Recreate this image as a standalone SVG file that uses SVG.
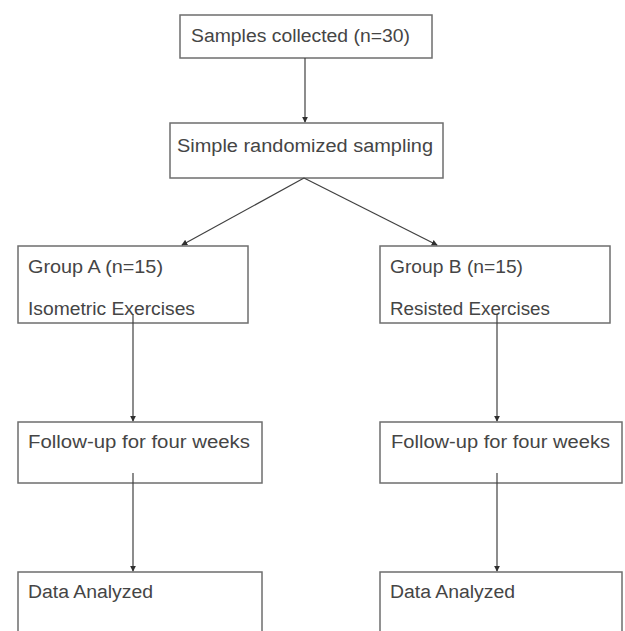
<svg xmlns="http://www.w3.org/2000/svg" width="625" height="631" viewBox="0 0 625 631">
<style>
.box{fill:#ffffff;stroke:#6e6e6e;stroke-width:1.5}
.t{font-family:"Liberation Sans",Arial,sans-serif;font-size:18px;fill:#454545}
.c{stroke:#404040;stroke-width:1.2;fill:none;marker-end:url(#ah)}
</style>
<defs>
<marker id="ah" viewBox="0 0 8 8" refX="7" refY="4" markerWidth="6" markerHeight="6" markerUnits="userSpaceOnUse" orient="auto">
<path d="M0,0 L8,4 L0,8 z" fill="#303030"/>
</marker>
</defs>
<rect width="625" height="631" fill="#ffffff"/>
<g id="n-samples">
<rect class="box" x="180" y="15" width="252" height="43"/>
<text class="t" x="191" y="42" textLength="219" lengthAdjust="spacingAndGlyphs">Samples collected (n=30)</text>
</g>
<g id="n-random">
<rect class="box" x="170" y="123" width="273" height="55"/>
<text class="t" x="177" y="152" textLength="256" lengthAdjust="spacingAndGlyphs">Simple randomized sampling</text>
</g>
<g id="n-groupA">
<rect class="box" x="18" y="246" width="230" height="77"/>
<text class="t" x="28" y="273" textLength="135" lengthAdjust="spacingAndGlyphs">Group A (n=15)</text>
<text class="t" x="28" y="315" textLength="167" lengthAdjust="spacingAndGlyphs">Isometric Exercises</text>
</g>
<g id="n-groupB">
<rect class="box" x="380" y="246" width="230" height="77"/>
<text class="t" x="390" y="273" textLength="133" lengthAdjust="spacingAndGlyphs">Group B (n=15)</text>
<text class="t" x="390" y="315" textLength="160" lengthAdjust="spacingAndGlyphs">Resisted Exercises</text>
</g>
<g id="n-followA">
<rect class="box" x="18" y="422" width="244" height="61"/>
<text class="t" x="28" y="448" textLength="222" lengthAdjust="spacingAndGlyphs">Follow-up for four weeks</text>
</g>
<g id="n-followB">
<rect class="box" x="380" y="422" width="242" height="61"/>
<text class="t" x="391" y="448" textLength="219" lengthAdjust="spacingAndGlyphs">Follow-up for four weeks</text>
</g>
<g id="n-dataA">
<rect class="box" x="18" y="572" width="244" height="80"/>
<text class="t" x="28" y="598" textLength="125" lengthAdjust="spacingAndGlyphs">Data Analyzed</text>
</g>
<g id="n-dataB">
<rect class="box" x="380" y="572" width="242" height="80"/>
<text class="t" x="390" y="598" textLength="125" lengthAdjust="spacingAndGlyphs">Data Analyzed</text>
</g>
<g id="connectors">
<line class="c" x1="305" y1="58" x2="305" y2="122"/>
<line class="c" x1="304" y1="178" x2="182" y2="245"/>
<line class="c" x1="304" y1="178" x2="437" y2="245"/>
<line class="c" x1="133" y1="314" x2="133" y2="421"/>
<line class="c" x1="497" y1="314" x2="497" y2="421"/>
<line class="c" x1="133" y1="473" x2="133" y2="571"/>
<line class="c" x1="497" y1="473" x2="497" y2="571"/>
</g>
</svg>
